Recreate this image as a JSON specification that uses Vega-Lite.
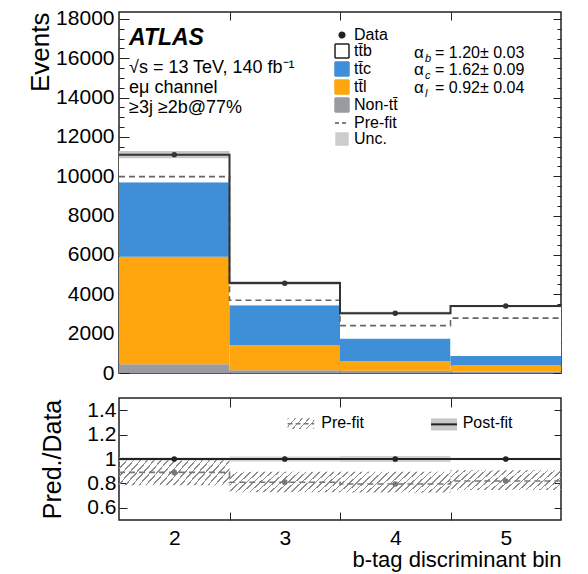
{
  "$schema": "https://vega.github.io/schema/vega-lite/v6.json",
  "background": "white",
  "padding": {"left": 26, "top": 7, "right": 5, "bottom": 2},
  "spacing": 12,
  "datasets": {
    "stack": [
      {"bin": 2, "lo": 1.5, "hi": 2.5, "process": "Non-tt\u0304", "order": 1, "n": 440},
      {"bin": 2, "lo": 1.5, "hi": 2.5, "process": "tt\u0304l", "order": 2, "n": 5470},
      {"bin": 2, "lo": 1.5, "hi": 2.5, "process": "tt\u0304c", "order": 3, "n": 3780},
      {"bin": 2, "lo": 1.5, "hi": 2.5, "process": "tt\u0304b", "order": 4, "n": 1410},
      {"bin": 3, "lo": 2.5, "hi": 3.5, "process": "Non-tt\u0304", "order": 1, "n": 140},
      {"bin": 3, "lo": 2.5, "hi": 3.5, "process": "tt\u0304l", "order": 2, "n": 1270},
      {"bin": 3, "lo": 2.5, "hi": 3.5, "process": "tt\u0304c", "order": 3, "n": 2040},
      {"bin": 3, "lo": 2.5, "hi": 3.5, "process": "tt\u0304b", "order": 4, "n": 1130},
      {"bin": 4, "lo": 3.5, "hi": 4.5, "process": "Non-tt\u0304", "order": 1, "n": 110},
      {"bin": 4, "lo": 3.5, "hi": 4.5, "process": "tt\u0304l", "order": 2, "n": 490},
      {"bin": 4, "lo": 3.5, "hi": 4.5, "process": "tt\u0304c", "order": 3, "n": 1150},
      {"bin": 4, "lo": 3.5, "hi": 4.5, "process": "tt\u0304b", "order": 4, "n": 1290},
      {"bin": 5, "lo": 4.5, "hi": 5.5, "process": "Non-tt\u0304", "order": 1, "n": 80},
      {"bin": 5, "lo": 4.5, "hi": 5.5, "process": "tt\u0304l", "order": 2, "n": 310},
      {"bin": 5, "lo": 4.5, "hi": 5.5, "process": "tt\u0304c", "order": 3, "n": 480},
      {"bin": 5, "lo": 4.5, "hi": 5.5, "process": "tt\u0304b", "order": 4, "n": 2530}
    ],
    "totals": [
      {"bin": 2, "lo": 1.5, "hi": 2.5, "data": 11100, "post": 11100, "post_lo": 10920, "post_hi": 11280, "pre": 9980},
      {"bin": 3, "lo": 2.5, "hi": 3.5, "data": 4560, "post": 4580, "post_lo": 4490, "post_hi": 4670, "pre": 3700},
      {"bin": 4, "lo": 3.5, "hi": 4.5, "data": 3040, "post": 3040, "post_lo": 2970, "post_hi": 3110, "pre": 2410},
      {"bin": 5, "lo": 4.5, "hi": 5.5, "data": 3410, "post": 3400, "post_lo": 3340, "post_hi": 3460, "pre": 2790}
    ],
    "ratio": [
      {"bin": 2, "lo": 1.5, "hi": 2.5, "post": 1, "post_lo": 0.988, "post_hi": 1.012, "pre": 0.89, "pre_lo": 0.785, "pre_hi": 0.99},
      {"bin": 3, "lo": 2.5, "hi": 3.5, "post": 1, "post_lo": 0.98, "post_hi": 1.02, "pre": 0.81, "pre_lo": 0.728, "pre_hi": 0.895},
      {"bin": 4, "lo": 3.5, "hi": 4.5, "post": 1, "post_lo": 0.976, "post_hi": 1.024, "pre": 0.795, "pre_lo": 0.725, "pre_hi": 0.895},
      {"bin": 5, "lo": 4.5, "hi": 5.5, "post": 1, "post_lo": 0.99, "post_hi": 1.01, "pre": 0.82, "pre_lo": 0.745, "pre_hi": 0.908}
    ],
    "legend": [
      {"process": "Data"}, {"process": "tt\u0304b"}, {"process": "tt\u0304c"}, {"process": "tt\u0304l"},
      {"process": "Non-tt\u0304"}, {"process": "Pre-fit"}, {"process": "Unc."}
    ]
  },
  "config": {
    "font": "Liberation Sans",
    "view": {"stroke": "#222", "strokeWidth": 1.5},
    "axis": {"grid": false, "domain": false, "tickColor": "#222", "tickWidth": 1, "labelColor": "#000", "titleColor": "#000", "labelFont": "Liberation Sans", "titleFont": "Liberation Sans", "titleFontWeight": "normal", "labelOverlap": false, "labelFlush": false},
    "legend": {"orient": "none", "legendX": 215, "legendY": 15, "title": null, "labelFont": "Liberation Sans", "labelFontSize": 16, "labelColor": "#000", "rowPadding": -2.2, "symbolStrokeWidth": 1.5, "symbolSize": 196, "labelOffset": 4, "padding": 0},
    "text": {"font": "Liberation Sans", "color": "#000"}
  },
  "resolve": {"scale": {"fill": "independent", "stroke": "independent", "shape": "independent", "strokeDash": "independent"}},
  "vconcat": [
    {
      "width": 442,
      "height": 361,
      "resolve": {"axis": {"x": "independent", "y": "independent"}},
      "layer": [
        {
          "data": {"name": "stack"},
          "transform": [{"stack": "n", "groupby": ["bin"], "sort": [{"field": "order", "order": "ascending"}], "as": ["y0", "y1"]}],
          "mark": {"type": "rect"},
          "encoding": {
            "x": {"field": "lo", "type": "quantitative", "scale": {"domain": [1.5, 5.5], "nice": false, "zero": false},
                  "axis": {"orient": "bottom", "values": [2.5, 3.5, 4.5], "labels": false, "tickSize": -11, "title": null}},
            "x2": {"field": "hi"},
            "y": {"field": "y0", "type": "quantitative", "scale": {"domain": [0, 18350], "nice": false, "zero": false},
                  "axis": {"orient": "left", "values": [0,500,1000,1500,2000,2500,3000,3500,4000,4500,5000,5500,6000,6500,7000,7500,8000,8500,9000,9500,10000,10500,11000,11500,12000,12500,13000,13500,14000,14500,15000,15500,16000,16500,17000,17500,18000],
                           "format": "d", "labelExpr": "datum.value % 2000 === 0 ? datum.label : ''",
                           "tickSize": {"condition": {"test": "datum.value % 2000 === 0", "value": -10}, "value": -5},
                           "labelPadding": 15, "labelFontSize": 21, "title": "Events", "titleFontSize": 26, "titleAnchor": "end", "titlePadding": 2}},
            "y2": {"field": "y1"},
            "fill": {"field": "process", "type": "nominal",
                     "scale": {"domain": ["Data", "tt\u0304b", "tt\u0304c", "tt\u0304l", "Non-tt\u0304", "Pre-fit", "Unc."],
                               "range": ["#222222", "#ffffff", "#3f8fd8", "#ffa60e", "#9a9aa1", "rgba(0,0,0,0)", "#cccccc"]},
                     "legend": {"orient": "none", "legendX": 215, "legendY": 15, "title": null}}
          }
        },
        {
          "data": {"name": "totals"},
          "mark": {"type": "rect", "fill": "#c8c8c8"},
          "encoding": {
            "x": {"field": "lo", "type": "quantitative", "axis": {"orient": "top", "values": [2.5, 3.5, 4.5], "labels": false, "tickSize": -8, "title": null}},
            "x2": {"field": "hi"},
            "y": {"field": "post_lo", "type": "quantitative",
                  "axis": {"orient": "right", "values": [0,500,1000,1500,2000,2500,3000,3500,4000,4500,5000,5500,6000,6500,7000,7500,8000,8500,9000,9500,10000,10500,11000,11500,12000,12500,13000,13500,14000,14500,15000,15500,16000,16500,17000,17500,18000],
                           "labels": false, "tickSize": {"condition": {"test": "datum.value % 2000 === 0", "value": -8}, "value": -4}, "title": null}},
            "y2": {"field": "post_hi"}
          }
        },
        {
          "data": {"name": "totals"},
          "transform": [{"fold": ["lo", "hi"], "as": ["edge", "xpos"]}],
          "mark": {"type": "line", "color": "#666666", "strokeWidth": 1.6, "strokeDash": [6, 4]},
          "encoding": {
            "x": {"field": "xpos", "type": "quantitative", "axis": null},
            "y": {"field": "pre", "type": "quantitative", "axis": null},
            "order": [{"field": "bin", "type": "quantitative"}, {"field": "edge", "type": "ordinal", "sort": "descending"}]
          }
        },
        {
          "data": {"name": "totals"},
          "transform": [{"fold": ["lo", "hi"], "as": ["edge", "xpos"]}],
          "mark": {"type": "line", "color": "#333333", "strokeWidth": 2},
          "encoding": {
            "x": {"field": "xpos", "type": "quantitative", "axis": null},
            "y": {"field": "post", "type": "quantitative", "axis": null},
            "order": [{"field": "bin", "type": "quantitative"}, {"field": "edge", "type": "ordinal", "sort": "descending"}]
          }
        },
        {
          "data": {"name": "totals"},
          "mark": {"type": "point", "filled": true, "color": "#333333", "size": 30, "opacity": 1},
          "encoding": {
            "x": {"field": "bin", "type": "quantitative", "axis": null},
            "y": {"field": "data", "type": "quantitative", "axis": null}
          }
        },
        {
          "data": {"name": "legend"},
          "transform": [{"filter": "false"}],
          "mark": {"type": "point", "filled": true, "opacity": 1, "strokeWidth": 1.5, "size": 196},
          "encoding": {
            "fill": {"field": "process", "type": "nominal",
                     "scale": {"domain": ["Data", "tt\u0304b", "tt\u0304c", "tt\u0304l", "Non-tt\u0304", "Pre-fit", "Unc."],
                               "range": ["#222222", "#ffffff", "#3f8fd8", "#ffa60e", "#9a9aa1", "rgba(0,0,0,0)", "#cccccc"]},
                     "legend": {"orient": "none", "legendX": 215, "legendY": 15, "title": null}},
            "stroke": {"field": "process", "type": "nominal",
                       "scale": {"domain": ["Data", "tt\u0304b", "tt\u0304c", "tt\u0304l", "Non-tt\u0304", "Pre-fit", "Unc."],
                                 "range": ["#222222", "#222222", "#3f8fd8", "#ffa60e", "#9a9aa1", "#555555", "#cccccc"]}},
            "shape": {"field": "process", "type": "nominal",
                      "scale": {"domain": ["Data", "tt\u0304b", "tt\u0304c", "tt\u0304l", "Non-tt\u0304", "Pre-fit", "Unc."],
                                "range": ["M -0.4 0 A 0.4 0.4 0 1 0 0.4 0 A 0.4 0.4 0 1 0 -0.4 0 Z", "square", "square", "square", "square", "stroke", "M -0.85 -0.85 L 0.85 -0.85 L 0.85 0.85 L -0.85 0.85 Z"]}},
            "strokeDash": {"field": "process", "type": "nominal",
                           "scale": {"domain": ["Data", "tt\u0304b", "tt\u0304c", "tt\u0304l", "Non-tt\u0304", "Pre-fit", "Unc."],
                                     "range": [[1, 0], [1, 0], [1, 0], [1, 0], [1, 0], [4, 3], [1, 0]]}}
          }
        },
        {
          "data": {"values": [{}]},
          "mark": {"type": "text", "text": "ATLAS", "fontSize": 23, "fontWeight": "bold", "fontStyle": "italic", "align": "left", "baseline": "alphabetic"},
          "encoding": {
            "x": {"datum": 1.5905, "type": "quantitative", "axis": null},
            "y": {"datum": 16650, "type": "quantitative", "axis": null}
          }
        },
        {
          "data": {"values": [{}]},
          "mark": {"type": "text", "text": ["\u221as = 13 TeV, 140 fb\u207b\u00b9", "e\u03bc channel", "\u22653j \u22652b@77%"], "fontSize": 18, "lineHeight": 20, "align": "left", "baseline": "alphabetic"},
          "encoding": {
            "x": {"datum": 1.5905, "type": "quantitative", "axis": null},
            "y": {"datum": 15226, "type": "quantitative", "axis": null}
          }
        },
        {
          "data": {"values": [{}]},
          "mark": {"type": "text", "text": ["\u03b1", "\u03b1", "\u03b1"], "fontSize": 17, "lineHeight": 17.5, "align": "left", "baseline": "alphabetic"},
          "encoding": {
            "x": {"datum": 4.1697, "type": "quantitative", "axis": null},
            "y": {"datum": 16030, "type": "quantitative", "axis": null}
          }
        },
        {
          "data": {"values": [{}]},
          "mark": {"type": "text", "text": ["b", "c", "l"], "fontSize": 11, "fontStyle": "italic", "lineHeight": 17.5, "align": "left", "baseline": "alphabetic", "dx": 11, "dy": 4},
          "encoding": {
            "x": {"datum": 4.1697, "type": "quantitative", "axis": null},
            "y": {"datum": 16030, "type": "quantitative", "axis": null}
          }
        },
        {
          "data": {"values": [{}]},
          "mark": {"type": "text", "text": ["= 1.20\u00b1 0.03", "= 1.62\u00b1 0.09", "= 0.92\u00b1 0.04"], "fontSize": 16, "lineHeight": 17.5, "align": "left", "baseline": "alphabetic", "dx": 21},
          "encoding": {
            "x": {"datum": 4.1697, "type": "quantitative", "axis": null},
            "y": {"datum": 16030, "type": "quantitative", "axis": null}
          }
        }
      ]
    },
    {
      "width": 442,
      "height": 122,
      "resolve": {"axis": {"x": "independent", "y": "independent"}},
      "layer": [
        {
          "data": {"name": "ratio"},
          "mark": {"type": "rect", "fill": "#d0d0d0"},
          "encoding": {
            "x": {"field": "lo", "type": "quantitative", "scale": {"domain": [1.5, 5.5], "nice": false, "zero": false},
                  "axis": {"orient": "bottom", "values": [2, 2.5, 3, 3.5, 4, 4.5, 5], "format": "~g", "labelExpr": "datum.value % 1 === 0 ? datum.label : ''",
                           "tickSize": {"condition": {"test": "datum.value % 1 === 0", "value": 0}, "value": -8},
                           "labelPadding": 7, "labelFontSize": 21, "title": "b-tag discriminant bin", "titleFontSize": 22, "titleAnchor": "end", "titlePadding": 1}},
            "x2": {"field": "hi"},
            "y": {"field": "post_lo", "type": "quantitative", "scale": {"domain": [0.5, 1.5], "nice": false, "zero": false},
                  "axis": {"orient": "left", "values": [0.6, 0.8, 1, 1.2, 1.4], "format": "~g", "tickSize": -8, "labelPadding": 11, "labelFontSize": 21,
                           "title": "Pred./Data", "titleFontSize": 25, "titlePadding": 21}},
            "y2": {"field": "post_hi"}
          }
        },
        {
          "data": {"name": "ratio"},
          "mark": {"type": "rect", "fill": {"gradient": "linear", "x1": 0, "y1": 0, "x2": 1.2, "y2": 0.24, "stops": [
            {"offset": 0, "color": "#8c8c8c"}, {"offset": 0.012, "color": "#8c8c8c"}, {"offset": 0.012, "color": "rgba(255,255,255,0)"}, {"offset": 0.05, "color": "rgba(255,255,255,0)"},
            {"offset": 0.05, "color": "#8c8c8c"}, {"offset": 0.062, "color": "#8c8c8c"}, {"offset": 0.062, "color": "rgba(255,255,255,0)"}, {"offset": 0.1, "color": "rgba(255,255,255,0)"},
            {"offset": 0.1, "color": "#8c8c8c"}, {"offset": 0.112, "color": "#8c8c8c"}, {"offset": 0.112, "color": "rgba(255,255,255,0)"}, {"offset": 0.15, "color": "rgba(255,255,255,0)"},
            {"offset": 0.15, "color": "#8c8c8c"}, {"offset": 0.162, "color": "#8c8c8c"}, {"offset": 0.162, "color": "rgba(255,255,255,0)"}, {"offset": 0.2, "color": "rgba(255,255,255,0)"},
            {"offset": 0.2, "color": "#8c8c8c"}, {"offset": 0.212, "color": "#8c8c8c"}, {"offset": 0.212, "color": "rgba(255,255,255,0)"}, {"offset": 0.25, "color": "rgba(255,255,255,0)"},
            {"offset": 0.25, "color": "#8c8c8c"}, {"offset": 0.262, "color": "#8c8c8c"}, {"offset": 0.262, "color": "rgba(255,255,255,0)"}, {"offset": 0.3, "color": "rgba(255,255,255,0)"},
            {"offset": 0.3, "color": "#8c8c8c"}, {"offset": 0.312, "color": "#8c8c8c"}, {"offset": 0.312, "color": "rgba(255,255,255,0)"}, {"offset": 0.35, "color": "rgba(255,255,255,0)"},
            {"offset": 0.35, "color": "#8c8c8c"}, {"offset": 0.362, "color": "#8c8c8c"}, {"offset": 0.362, "color": "rgba(255,255,255,0)"}, {"offset": 0.4, "color": "rgba(255,255,255,0)"},
            {"offset": 0.4, "color": "#8c8c8c"}, {"offset": 0.412, "color": "#8c8c8c"}, {"offset": 0.412, "color": "rgba(255,255,255,0)"}, {"offset": 0.45, "color": "rgba(255,255,255,0)"},
            {"offset": 0.45, "color": "#8c8c8c"}, {"offset": 0.462, "color": "#8c8c8c"}, {"offset": 0.462, "color": "rgba(255,255,255,0)"}, {"offset": 0.5, "color": "rgba(255,255,255,0)"},
            {"offset": 0.5, "color": "#8c8c8c"}, {"offset": 0.512, "color": "#8c8c8c"}, {"offset": 0.512, "color": "rgba(255,255,255,0)"}, {"offset": 0.55, "color": "rgba(255,255,255,0)"},
            {"offset": 0.55, "color": "#8c8c8c"}, {"offset": 0.562, "color": "#8c8c8c"}, {"offset": 0.562, "color": "rgba(255,255,255,0)"}, {"offset": 0.6, "color": "rgba(255,255,255,0)"},
            {"offset": 0.6, "color": "#8c8c8c"}, {"offset": 0.612, "color": "#8c8c8c"}, {"offset": 0.612, "color": "rgba(255,255,255,0)"}, {"offset": 0.65, "color": "rgba(255,255,255,0)"},
            {"offset": 0.65, "color": "#8c8c8c"}, {"offset": 0.662, "color": "#8c8c8c"}, {"offset": 0.662, "color": "rgba(255,255,255,0)"}, {"offset": 0.7, "color": "rgba(255,255,255,0)"},
            {"offset": 0.7, "color": "#8c8c8c"}, {"offset": 0.712, "color": "#8c8c8c"}, {"offset": 0.712, "color": "rgba(255,255,255,0)"}, {"offset": 0.75, "color": "rgba(255,255,255,0)"},
            {"offset": 0.75, "color": "#8c8c8c"}, {"offset": 0.762, "color": "#8c8c8c"}, {"offset": 0.762, "color": "rgba(255,255,255,0)"}, {"offset": 0.8, "color": "rgba(255,255,255,0)"},
            {"offset": 0.8, "color": "#8c8c8c"}, {"offset": 0.812, "color": "#8c8c8c"}, {"offset": 0.812, "color": "rgba(255,255,255,0)"}, {"offset": 0.85, "color": "rgba(255,255,255,0)"},
            {"offset": 0.85, "color": "#8c8c8c"}, {"offset": 0.862, "color": "#8c8c8c"}, {"offset": 0.862, "color": "rgba(255,255,255,0)"}, {"offset": 0.9, "color": "rgba(255,255,255,0)"},
            {"offset": 0.9, "color": "#8c8c8c"}, {"offset": 0.912, "color": "#8c8c8c"}, {"offset": 0.912, "color": "rgba(255,255,255,0)"}, {"offset": 0.95, "color": "rgba(255,255,255,0)"},
            {"offset": 0.95, "color": "#8c8c8c"}, {"offset": 0.962, "color": "#8c8c8c"}, {"offset": 0.962, "color": "rgba(255,255,255,0)"}, {"offset": 1, "color": "rgba(255,255,255,0)"}
          ]}},
          "encoding": {
            "x": {"field": "lo", "type": "quantitative", "axis": {"orient": "top", "values": [2.5, 3.5, 4.5], "labels": false, "tickSize": -9, "title": null}},
            "x2": {"field": "hi"},
            "y": {"field": "pre_lo", "type": "quantitative", "axis": {"orient": "right", "values": [0.6, 0.8, 1, 1.2, 1.4], "labels": false, "tickSize": -7, "title": null}},
            "y2": {"field": "pre_hi"}
          }
        },
        {
          "data": {"name": "ratio"},
          "transform": [{"fold": ["lo", "hi"], "as": ["edge", "xpos"]}],
          "mark": {"type": "line", "color": "#777777", "strokeWidth": 1.6, "strokeDash": [6, 4]},
          "encoding": {
            "x": {"field": "xpos", "type": "quantitative", "axis": null},
            "y": {"field": "pre", "type": "quantitative", "axis": null},
            "order": [{"field": "bin", "type": "quantitative"}, {"field": "edge", "type": "ordinal", "sort": "descending"}]
          }
        },
        {
          "data": {"name": "ratio"},
          "transform": [{"fold": ["lo", "hi"], "as": ["edge", "xpos"]}],
          "mark": {"type": "line", "color": "#222222", "strokeWidth": 2},
          "encoding": {
            "x": {"field": "xpos", "type": "quantitative", "axis": null},
            "y": {"field": "post", "type": "quantitative", "axis": null},
            "order": [{"field": "bin", "type": "quantitative"}, {"field": "edge", "type": "ordinal", "sort": "descending"}]
          }
        },
        {
          "data": {"name": "ratio"},
          "mark": {"type": "point", "filled": true, "color": "#777777", "size": 32, "opacity": 1},
          "encoding": {
            "x": {"field": "bin", "type": "quantitative", "axis": null},
            "y": {"field": "pre", "type": "quantitative", "axis": null}
          }
        },
        {
          "data": {"name": "ratio"},
          "mark": {"type": "point", "filled": true, "color": "#222222", "size": 32, "opacity": 1},
          "encoding": {
            "x": {"field": "bin", "type": "quantitative", "axis": null},
            "y": {"field": "post", "type": "quantitative", "axis": null}
          }
        },
        {
          "data": {"values": [{}]},
          "mark": {"type": "rect", "fill": {"gradient": "linear", "x1": 0, "y1": 0, "x2": 1.2, "y2": 0.46, "stops": [
            {"offset": 0, "color": "#8c8c8c"}, {"offset": 0.045, "color": "#8c8c8c"}, {"offset": 0.045, "color": "rgba(255,255,255,0)"}, {"offset": 0.19, "color": "rgba(255,255,255,0)"},
            {"offset": 0.19, "color": "#8c8c8c"}, {"offset": 0.235, "color": "#8c8c8c"}, {"offset": 0.235, "color": "rgba(255,255,255,0)"}, {"offset": 0.38, "color": "rgba(255,255,255,0)"},
            {"offset": 0.38, "color": "#8c8c8c"}, {"offset": 0.425, "color": "#8c8c8c"}, {"offset": 0.425, "color": "rgba(255,255,255,0)"}, {"offset": 0.57, "color": "rgba(255,255,255,0)"},
            {"offset": 0.57, "color": "#8c8c8c"}, {"offset": 0.615, "color": "#8c8c8c"}, {"offset": 0.615, "color": "rgba(255,255,255,0)"}, {"offset": 0.76, "color": "rgba(255,255,255,0)"},
            {"offset": 0.76, "color": "#8c8c8c"}, {"offset": 0.805, "color": "#8c8c8c"}, {"offset": 0.805, "color": "rgba(255,255,255,0)"}, {"offset": 0.95, "color": "rgba(255,255,255,0)"},
            {"offset": 0.95, "color": "#8c8c8c"}, {"offset": 0.995, "color": "#8c8c8c"}, {"offset": 0.995, "color": "rgba(255,255,255,0)"}, {"offset": 1, "color": "rgba(255,255,255,0)"}
          ]}},
          "encoding": {
            "x": {"datum": 3.026, "type": "quantitative", "axis": null},
            "x2": {"datum": 3.267},
            "y": {"datum": 1.245, "type": "quantitative", "axis": null},
            "y2": {"datum": 1.333}
          }
        },
        {
          "data": {"values": [{}]},
          "mark": {"type": "rule", "color": "#777777", "strokeWidth": 1.6, "strokeDash": [5, 3]},
          "encoding": {
            "x": {"datum": 3.026, "type": "quantitative", "axis": null},
            "x2": {"datum": 3.267},
            "y": {"datum": 1.289, "type": "quantitative", "axis": null}
          }
        },
        {
          "data": {"values": [{}]},
          "mark": {"type": "rect", "fill": "#c8c8c8"},
          "encoding": {
            "x": {"datum": 4.3235, "type": "quantitative", "axis": null},
            "x2": {"datum": 4.559},
            "y": {"datum": 1.234, "type": "quantitative", "axis": null},
            "y2": {"datum": 1.333}
          }
        },
        {
          "data": {"values": [{}]},
          "mark": {"type": "rule", "color": "#222222", "strokeWidth": 2},
          "encoding": {
            "x": {"datum": 4.3235, "type": "quantitative", "axis": null},
            "x2": {"datum": 4.559},
            "y": {"datum": 1.284, "type": "quantitative", "axis": null}
          }
        },
        {
          "data": {"values": [{}]},
          "mark": {"type": "text", "text": "Pre-fit", "fontSize": 16, "align": "left", "baseline": "alphabetic"},
          "encoding": {
            "x": {"datum": 3.33, "type": "quantitative", "axis": null},
            "y": {"datum": 1.255, "type": "quantitative", "axis": null}
          }
        },
        {
          "data": {"values": [{}]},
          "mark": {"type": "text", "text": "Post-fit", "fontSize": 16, "align": "left", "baseline": "alphabetic"},
          "encoding": {
            "x": {"datum": 4.61, "type": "quantitative", "axis": null},
            "y": {"datum": 1.255, "type": "quantitative", "axis": null}
          }
        }
      ]
    }
  ]
}
